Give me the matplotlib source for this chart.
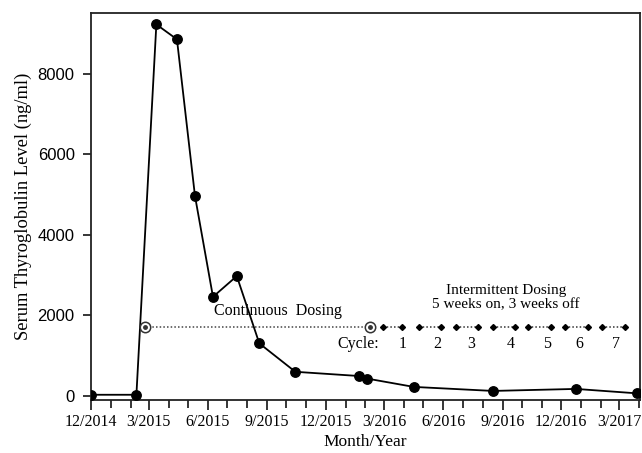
import matplotlib
matplotlib.use("Agg")
import matplotlib.pyplot as plt
import matplotlib.dates as mdates
from matplotlib.ticker import FuncFormatter
import numpy as np
import pandas as pd

# serum thyroglobulin measurements
dates = ["2014-12-01", "2015-02-10", "2015-03-13", "2015-04-14", "2015-05-12",
         "2015-06-09", "2015-07-16", "2015-08-20", "2015-10-15", "2016-01-22",
         "2016-02-04", "2016-04-16", "2016-08-17", "2016-12-24", "2017-03-29"]
tg = [30, 30, 9220, 8850, 4965, 2460, 2975, 1305, 600, 495, 430, 225, 125, 175, 65]

# dosing schedule
dose_level = 1700
cont_start, cont_end = "2015-02-23", "2016-02-08"
cyc_start = ["2016-02-28", "2016-04-24", "2016-06-21", "2016-08-17",
             "2016-10-11", "2016-12-07", "2017-02-02"]
cyc_end = ["2016-03-28", "2016-05-29", "2016-07-25", "2016-09-20",
           "2016-11-16", "2017-01-12", "2017-03-11"]
cyc_label_x = ["2016-03-29", "2016-05-22", "2016-07-15", "2016-09-14",
               "2016-11-09", "2016-12-30", "2017-02-24"]
cyc_names = ["1", "2", "3", "4", "5", "6", "7"]

ticks = ["2014-12-01", "2015-03-01", "2015-06-01", "2015-09-01", "2015-12-01",
         "2016-03-01", "2016-06-01", "2016-09-01", "2016-12-01", "2017-03-01"]

serif = "Liberation Serif"
sans = "Liberation Sans"

fig = plt.figure(figsize=(6.42, 4.53), dpi=100)
ax = fig.add_axes([0.1413, 0.117, 0.856, 0.854])

x = pd.to_datetime(dates)
ax.plot(x, tg, color="black", lw=1.3, marker="o", ms=6.8, zorder=3)

# continuous dosing
cs, ce = pd.to_datetime([cont_start, cont_end])
ax.plot([cs, ce], [dose_level, dose_level], color="#444444", lw=1.1, ls=(0, (1, 1.4)))
for d in [cs, ce]:
    ax.plot(d, dose_level, marker="o", ms=7.5, mfc="white", mec="#333333", mew=1.1, zorder=4)
    ax.plot(d, dose_level, marker="o", ms=2.5, color="#333333", zorder=5)

# intermittent dosing cycles
for s, e in zip(pd.to_datetime(cyc_start), pd.to_datetime(cyc_end)):
    ax.plot([s, e], [dose_level, dose_level], color="#333333", lw=1.1, ls=(0, (1, 1.4)))
    ax.plot([s, e], [dose_level, dose_level], ls="none", marker="D", ms=3, color="black")

for lx, name in zip(pd.to_datetime(cyc_label_x), cyc_names):
    ax.text(lx, 1290, name, ha="center", va="center", fontsize=11.5, family=serif)
ax.text(pd.Timestamp("2016-01-21"), 1290, "Cycle:", ha="center", va="center",
        fontsize=11.5, family=serif)
ax.text(pd.Timestamp("2015-09-18"), 2115, "Continuous  Dosing", ha="center", va="center",
        fontsize=11.5, family=serif)
ax.text(pd.Timestamp("2016-09-06"), 2440, "Intermittent Dosing\n5 weeks on, 3 weeks off",
        ha="center", va="center", fontsize=11, family=serif, linespacing=1.2)

ax.set_xlim(pd.Timestamp("2014-12-01"), pd.Timestamp("2017-04-03"))
ax.set_ylim(-100, 9500)

ax.set_xticks(pd.to_datetime(ticks))
ax.xaxis.set_minor_locator(mdates.MonthLocator())
ax.xaxis.set_major_formatter(FuncFormatter(
    lambda v, p: "%d/%d" % (mdates.num2date(v).month, mdates.num2date(v).year)))
ax.set_yticks([0, 2000, 4000, 6000, 8000])

ax.tick_params(axis="x", which="major", length=7, width=1.1, direction="out", pad=3)
ax.tick_params(axis="x", which="minor", length=6, width=1.1, direction="out")
ax.tick_params(axis="y", length=5.5, width=1.1, direction="out", pad=6)
for lab in ax.get_xticklabels():
    lab.set_fontfamily(serif)
    lab.set_fontsize(11.5)
for lab in ax.get_yticklabels():
    lab.set_fontfamily(sans)
    lab.set_fontsize(12)

for sp in ax.spines.values():
    sp.set_linewidth(1.3)
    sp.set_color("#222222")

ax.set_xlabel("Month/Year", fontsize=12.5, family=serif, labelpad=3)
ax.set_ylabel("Serum Thyroglobulin Level (ng/ml)", fontsize=13.3, family=serif, labelpad=4)

fig.savefig("out.png", dpi=100)
